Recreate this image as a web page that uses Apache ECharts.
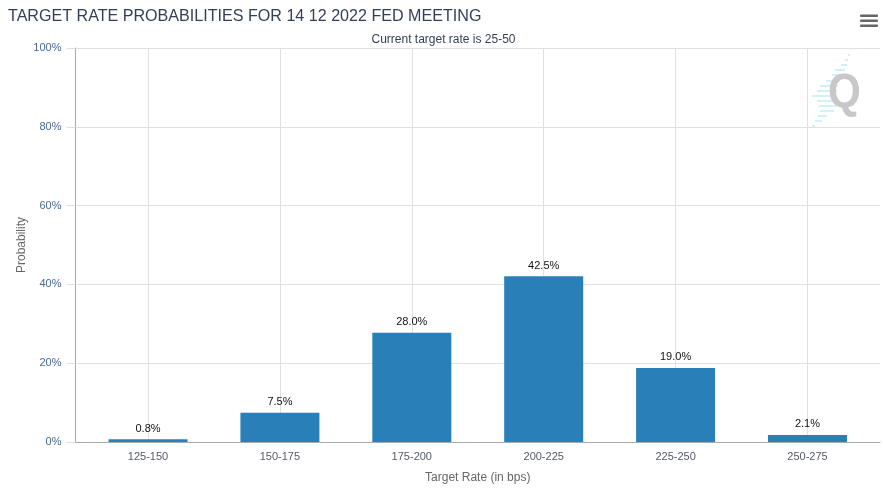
<!DOCTYPE html>
<html>
<head>
<meta charset="utf-8">
<style>
html, body { margin: 0; padding: 0; background: #fff; }
#chart { width: 883px; height: 491px; }
</style>
<script src="https://cdn.jsdelivr.net/npm/echarts@6/dist/echarts.min.js"></script>
</head>
<body>
<div id="chart"></div>
<script>
var categories = ['125-150', '150-175', '175-200', '200-225', '225-250', '250-275'];
var barValues = [0.7, 7.4, 27.7, 42.1, 18.8, 1.8];
var barLabels = ['0.8%', '7.5%', '28.0%', '42.5%', '19.0%', '2.1%'];
var titleText = 'TARGET RATE PROBABILITIES FOR 14 12 2022 FED MEETING';
var subtitleText = 'Current target rate is 25-50';
var fontName = '"Liberation Sans", Arial, sans-serif';

var myChart = echarts.init(document.getElementById('chart'), null, { renderer: 'canvas' });

// category positions, the plot area is wider than the six bands
var positions = categories.map(function (c, i) { return i; });
var seriesData = barValues.map(function (v, i) { return [i, v]; });

// logo stripes behind the Q: x, y, width
var logo = [
    [848, 54, 2], [845, 59, 3], [841, 64, 6], [835, 69, 10], [832, 74, 12], [826, 80, 14],
    [820, 85, 18], [817, 90, 20], [812, 95, 24], [817, 100, 20], [819, 105, 18],
    [820, 110, 14], [818, 115, 9], [815, 120, 7], [812, 125, 3]
].map(function (r) {
    return { type: 'rect', shape: { x: r[0], y: r[1], width: r[2], height: 2 }, style: { fill: '#d0f1fa' }, silent: true, z: 0 };
});

var menu = [14.5, 19.5, 24.5].map(function (y) {
    return { type: 'rect', shape: { x: 860, y: y, width: 18, height: 2.6, r: 1 }, style: { fill: '#666666' }, silent: true };
});

var option = {
    animation: false,
    backgroundColor: '#ffffff',
    textStyle: { fontFamily: fontName },
    title: [
        {
            text: titleText,
            left: 3,
            top: 4,
            textStyle: { fontSize: 16.1, fontWeight: 'normal', color: '#333e58', fontFamily: fontName }
        },
        {
            text: subtitleText,
            left: 438.5,
            top: 29,
            textAlign: 'center',
            textStyle: { fontSize: 12, fontWeight: 'normal', color: '#333e58', fontFamily: fontName }
        }
    ],
    grid: { left: 75.5, right: 3, top: 48, bottom: 49, outerBoundsMode: 'none' },
    xAxis: {
        type: 'value',
        min: -0.55,
        max: 5.55,
        name: 'Target Rate (in bps)',
        nameLocation: 'middle',
        nameGap: 30,
        nameMoveOverlap: false,
        nameTextStyle: { color: '#666666', fontSize: 12 },
        axisLine: { show: true, onZero: false, lineStyle: { color: '#aaaaaa', width: 1 } },
        axisTick: { show: false, customValues: positions },
        splitLine: { show: true, lineStyle: { color: '#e0e0e0', width: 1 } },
        axisLabel: {
            customValues: positions,
            color: '#555a66',
            fontSize: 11,
            margin: 9,
            formatter: function (value) { return categories[value]; }
        }
    },
    yAxis: {
        type: 'value',
        min: 0,
        max: 100,
        interval: 20,
        name: 'Probability',
        nameLocation: 'middle',
        nameGap: 48,
        nameMoveOverlap: false,
        nameTextStyle: { color: '#666666', fontSize: 12 },
        axisLine: { show: true, onZero: false, lineStyle: { color: '#aaaaaa', width: 1 } },
        axisTick: { show: true, length: 9, lineStyle: { color: '#e0e0e0', width: 1 } },
        splitLine: { show: true, lineStyle: { color: '#e0e0e0', width: 1 } },
        axisLabel: {
            color: '#4a6890',
            fontSize: 11,
            margin: 14,
            padding: [2, 0, 0, 0],
            formatter: '{value}%'
        }
    },
    series: [
        {
            type: 'bar',
            data: seriesData,
            barWidth: 79,
            itemStyle: { color: '#2980b9' },
            label: {
                show: true,
                position: 'top',
                distance: 5,
                color: '#111111',
                fontSize: 11,
                formatter: function (p) { return barLabels[p.dataIndex]; }
            }
        }
    ],
    graphic: logo.concat([
        {
            type: 'text',
            x: 828,
            y: 70,
            scaleX: 0.88,
            silent: true,
            z: 1,
            style: { text: 'Q', fill: '#c8c8c8', font: 'bold 48px ' + fontName }
        }
    ]).concat(menu)
};

myChart.setOption(option);
</script>
</body>
</html>
